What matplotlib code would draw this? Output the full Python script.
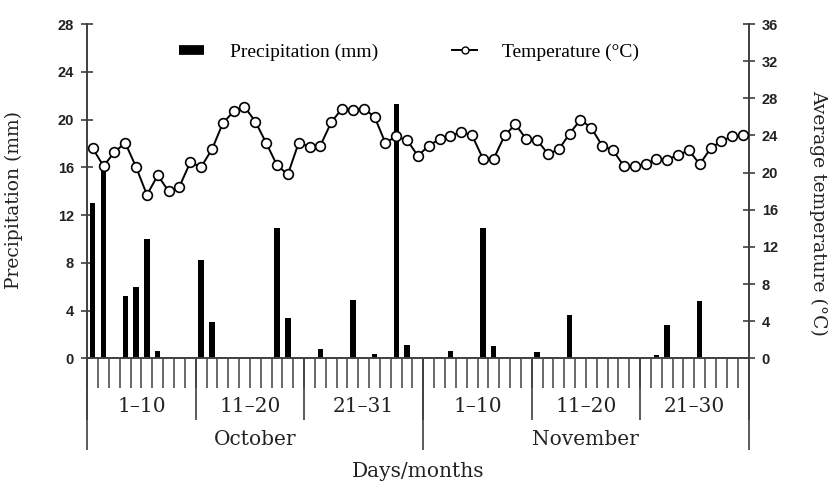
import numpy as np
import matplotlib.pyplot as plt
from matplotlib.lines import Line2D
import matplotlib.transforms as mtransforms

# daily precipitation (mm), October 1-31 then November 1-30
precip_oct = [13.0, 16.0, 0.1, 5.2, 6.0, 10.0, 0.6, 0, 0, 0,
              8.2, 3.0, 0, 0, 0, 0, 0, 10.9, 3.4, 0,
              0, 0.8, 0, 0, 4.9, 0, 0.4, 0, 21.3, 1.1, 0]
precip_nov = [0.1, 0.1, 0.6, 0, 0, 10.9, 1.0, 0, 0, 0,
              0.5, 0.1, 0, 3.6, 0, 0, 0, 0, 0, 0,
              0, 0.3, 2.8, 0, 0, 4.8, 0, 0, 0, 0]

# average daily temperature (C)
temp_oct = [22.6, 20.7, 22.2, 23.2, 20.6, 17.6, 19.7, 18.0, 18.5, 21.1,
            20.6, 22.5, 25.3, 26.6, 27.1, 25.5, 23.2, 20.8, 19.8, 23.2,
            22.8, 22.9, 25.4, 26.9, 26.7, 26.9, 26.0, 23.2, 23.9, 23.5, 21.8]
temp_nov = [22.9, 23.6, 23.9, 24.4, 24.0, 21.5, 21.5, 24.0, 25.2, 23.6,
            23.5, 22.0, 22.5, 24.2, 25.7, 24.8, 22.9, 22.4, 20.7, 20.7,
            20.9, 21.5, 21.4, 21.9, 22.4, 20.9, 22.6, 23.4, 23.9, 24.0]

dekads = ['1\u201310', '11\u201320', '21\u201331', '1\u201310', '11\u201320', '21\u201330']
dekad_edges = [0, 10, 20, 31, 41, 51, 61]
months = ['October', 'November']
month_edges = [0, 31, 61]

precip = np.array(precip_oct + precip_nov)
temp = np.array(temp_oct + temp_nov)
ndays = len(precip)
x = np.arange(ndays) + 0.5

serif = 'DejaVu Serif'
tickfont = {'family': ['Liberation Sans Narrow', 'Liberation Sans'], 'weight': 'bold', 'size': 10.5}
gray = '#404040'

fig = plt.figure(figsize=(8.29, 4.82), dpi=100)
ax = fig.add_axes([0.1053, 0.2566, 0.7976, 0.6936])
ax2 = ax.twinx()

ax.bar(x, precip, width=0.5, color='black', zorder=2)
ax2.plot(x, temp, color='black', lw=1.4, marker='o', ms=7,
         mfc='white', mec='black', mew=1.2, zorder=3)

ax.set_xlim(0, ndays)
ax.set_ylim(0, 28)
ax2.set_ylim(0, 36)
ax.set_yticks(np.arange(0, 29, 4))
ax2.set_yticks(np.arange(0, 37, 4))

for a in (ax, ax2):
    a.spines['top'].set_visible(False)
    for s in ('left', 'right', 'bottom'):
        a.spines[s].set_color(gray)
        a.spines[s].set_linewidth(1.2)
    a.tick_params(axis='y', direction='inout', length=9, width=1.2, color=gray, pad=5)
    for lab in a.get_yticklabels():
        lab.set_fontfamily(tickfont['family'])
        lab.set_fontweight('bold')
        lab.set_fontsize(tickfont['size'])
        lab.set_color('#222222')
ax.set_xticks([])

ax.set_ylabel('Precipitation (mm)', family=serif, fontsize=13.5, color='#222222')
ax.yaxis.set_label_coords(-0.097, 0.474)
ax2.set_ylabel('Average temperature (\u00b0C)', family=serif, fontsize=13.5,
               color='#222222', rotation=-90, va='center')
ax2.yaxis.set_label_coords(1.105, 0.435)

# day ticks and group separators below the axis
trans = mtransforms.blended_transform_factory(ax.transData, ax.transAxes)
ax.vlines(np.arange(ndays + 1), -0.089, 0, transform=trans, color=gray, lw=1.1, clip_on=False)
ax.vlines(dekad_edges, -0.184, 0, transform=trans, color=gray, lw=1.2, clip_on=False)
ax.vlines(month_edges, -0.274, 0, transform=trans, color=gray, lw=1.2, clip_on=False)

for i, lab in enumerate(dekads):
    xc = (dekad_edges[i] + dekad_edges[i + 1]) / 2
    ax.text(xc, -0.145, lab, transform=trans, ha='center', va='center',
            family=serif, fontsize=14.5, color='#222222')
for i, lab in enumerate(months):
    xc = (month_edges[i] + month_edges[i + 1]) / 2
    ax.text(xc, -0.243, lab, transform=trans, ha='center', va='center',
            family=serif, fontsize=14.5, color='#222222')
ax.text(0.5, -0.34, 'Days/months', transform=ax.transAxes, ha='center', va='center',
        family=serif, fontsize=14.5, color='#222222')

handles = [Line2D([], [], color='black', lw=7, solid_capstyle='butt'),
           Line2D([], [], color='black', lw=1.4, marker='o', ms=5,
                  mfc='white', mec='black', mew=1.0)]
ax2.legend(handles, ['Precipitation (mm)', 'Temperature (\u00b0C)'], ncol=2,
           loc='center', bbox_to_anchor=(0.487, 0.916), frameon=False,
           prop={'family': 'Liberation Serif', 'size': 14},
           handlelength=1.3, handletextpad=1.3, columnspacing=3.8)

plt.savefig('out.png', dpi=100)
